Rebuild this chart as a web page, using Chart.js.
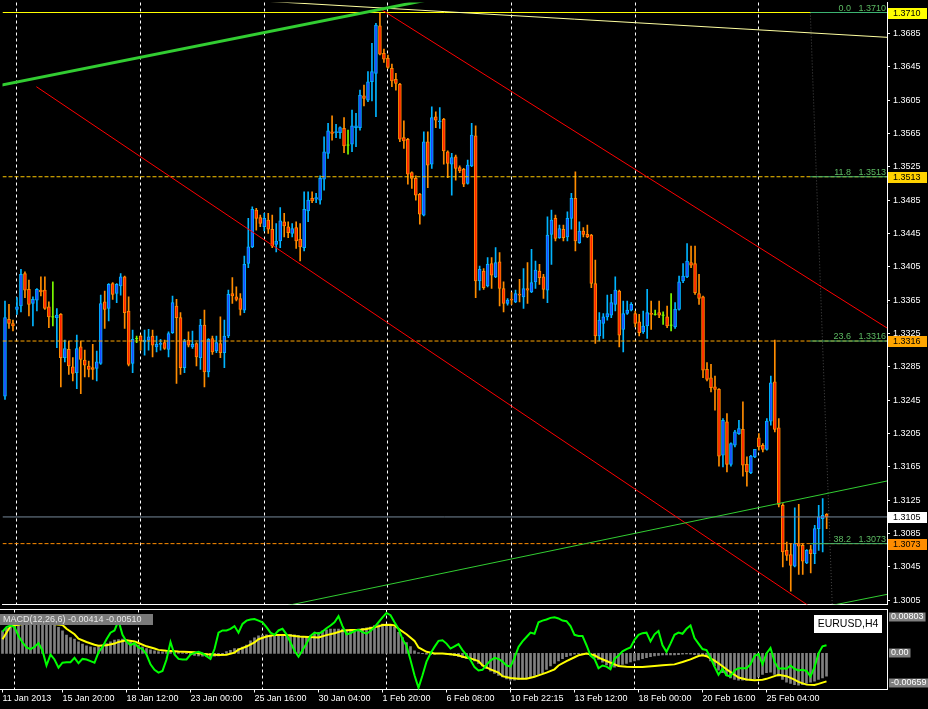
<!DOCTYPE html>
<html lang="en">
<head>
<meta charset="utf-8">
<title>EURUSD,H4</title>
<script src="https://cdn.jsdelivr.net/npm/chart.js@4.4.1/dist/chart.umd.min.js"></script>
<style>
  html, body { margin: 0; padding: 0; background: #000; }
  body { width: 928px; height: 709px; position: relative; overflow: hidden; }
  canvas { position: absolute; left: 0; }
  #priceChart { top: 0; }
  #macdChart { top: 606px; }
</style>
</head>
<body>
<canvas id="priceChart" width="928" height="607"></canvas>
<canvas id="macdChart" width="928" height="103"></canvas>
<script>
// EURUSD H4 candles, one entry per bar (bar 0 = 11 Jan 2013)
const opens = [
  1.3250,1.3342,1.3337,1.3354,1.3358,1.3397,1.3378,1.3361,1.3365,1.3377,
  1.3377,1.3357,1.3345,1.3344,1.3348,1.3296,1.3306,1.3285,1.3278,1.3309,
  1.3293,1.3286,1.3284,1.3283,1.3289,1.3363,1.3355,1.3385,1.3373,1.3382,
  1.3393,1.3352,1.3289,1.3319,1.3322,1.3315,1.3317,1.3322,1.3309,1.3312,
  1.3314,1.3306,1.3326,1.3358,1.3344,1.3284,1.3317,1.3309,1.3313,1.3296,
  1.3335,1.3279,1.3319,1.3304,1.3313,1.3302,1.3322,1.3373,1.3369,1.3367,
  1.3353,1.3409,1.3429,1.3473,1.3464,1.3453,1.3461,1.3450,1.3432,1.3436,
  1.3459,1.3453,1.3445,1.3452,1.3438,1.3428,1.3472,1.3487,1.3486,1.3485,
  1.3510,1.3541,1.3567,1.3566,1.3566,1.3571,1.3551,1.3552,1.3572,1.3572,
  1.3610,1.3605,1.3627,1.3637,1.3694,1.3661,1.3655,1.3643,1.3630,1.3624,
  1.3560,1.3558,1.3518,1.3511,1.3492,1.3467,1.3555,1.3528,1.3585,1.3579,
  1.3582,1.3543,1.3528,1.3537,1.3524,1.3522,1.3505,1.3526,1.3562,1.3388,
  1.3400,1.3382,1.3409,1.3393,1.3411,1.3379,1.3361,1.3366,1.3363,1.3372,
  1.3369,1.3379,1.3375,1.3387,1.3400,1.3393,1.3377,1.3444,1.3463,1.3440,
  1.3450,1.3441,1.3463,1.3487,1.3434,1.3448,1.3444,1.3443,1.3385,1.3322,
  1.3337,1.3345,1.3347,1.3360,1.3376,1.3330,1.3349,1.3353,1.3349,1.3339,
  1.3327,1.3334,1.3349,1.3348,1.3350,1.3347,1.3345,1.3335,1.3333,1.3354,
  1.3388,1.3393,1.3410,1.3409,1.3373,1.3369,1.3282,1.3272,1.3261,1.3258,
  1.3179,1.3219,1.3168,1.3191,1.3205,1.3210,1.3168,1.3158,1.3177,1.3200,
  1.3191,1.3186,1.3220,1.3267,1.3212,1.3119,1.3065,1.3060,1.3046,1.3073,
  1.3071,1.3050,1.3066,1.3061,1.3091,1.3103,1.3108
];
const highs = [
  1.3364,1.3360,1.3341,1.3368,1.3402,1.3399,1.3389,1.3369,1.3379,1.3393,
  1.3393,1.3363,1.3387,1.3355,1.3349,1.3317,1.3316,1.3296,1.3323,1.3316,
  1.3305,1.3292,1.3312,1.3304,1.3371,1.3376,1.3385,1.3386,1.3385,1.3397,
  1.3394,1.3369,1.3329,1.3322,1.3323,1.3329,1.3330,1.3329,1.3322,1.3318,
  1.3317,1.3327,1.3370,1.3366,1.3350,1.3318,1.3327,1.3328,1.3314,1.3342,
  1.3353,1.3319,1.3322,1.3322,1.3345,1.3341,1.3377,1.3392,1.3381,1.3373,
  1.3418,1.3463,1.3477,1.3475,1.3467,1.3469,1.3469,1.3467,1.3457,1.3476,
  1.3469,1.3459,1.3457,1.3459,1.3457,1.3495,1.3495,1.3495,1.3493,1.3514,
  1.3561,1.3577,1.3586,1.3576,1.3573,1.3584,1.3569,1.3593,1.3589,1.3617,
  1.3623,1.3639,1.3673,1.3697,1.3710,1.3666,1.3659,1.3648,1.3637,1.3625,
  1.3580,1.3559,1.3519,1.3514,1.3493,1.3567,1.3567,1.3597,1.3591,1.3596,
  1.3583,1.3544,1.3541,1.3539,1.3526,1.3523,1.3533,1.3577,1.3574,1.3406,
  1.3403,1.3416,1.3416,1.3428,1.3422,1.3387,1.3367,1.3374,1.3377,1.3390,
  1.3403,1.3410,1.3426,1.3412,1.3408,1.3396,1.3465,1.3473,1.3467,1.3455,
  1.3455,1.3471,1.3493,1.3519,1.3459,1.3452,1.3455,1.3444,1.3413,1.3350,
  1.3349,1.3371,1.3372,1.3393,1.3377,1.3364,1.3364,1.3362,1.3352,1.3348,
  1.3352,1.3378,1.3364,1.3353,1.3364,1.3351,1.3358,1.3373,1.3362,1.3394,
  1.3409,1.3433,1.3430,1.3430,1.3396,1.3370,1.3290,1.3288,1.3274,1.3259,
  1.3223,1.3229,1.3194,1.3209,1.3221,1.3243,1.3177,1.3179,1.3186,1.3205,
  1.3193,1.3223,1.3274,1.3317,1.3223,1.3121,1.3075,1.3073,1.3116,1.3120,
  1.3073,1.3066,1.3071,1.3095,1.3119,1.3127,1.3109
];
const lows = [
  1.3246,1.3331,1.3328,1.3348,1.3351,1.3368,1.3346,1.3334,1.3352,1.3370,
  1.3354,1.3332,1.3334,1.3308,1.3261,1.3291,1.3276,1.3268,1.3259,1.3253,
  1.3273,1.3273,1.3270,1.3268,1.3288,1.3331,1.3340,1.3366,1.3362,1.3371,
  1.3331,1.3286,1.3278,1.3314,1.3305,1.3299,1.3305,1.3297,1.3303,1.3305,
  1.3306,1.3297,1.3325,1.3265,1.3276,1.3278,1.3309,1.3307,1.3286,1.3282,
  1.3261,1.3273,1.3300,1.3302,1.3296,1.3284,1.3320,1.3361,1.3364,1.3347,
  1.3350,1.3404,1.3428,1.3449,1.3453,1.3448,1.3445,1.3428,1.3423,1.3428,
  1.3441,1.3440,1.3441,1.3427,1.3412,1.3424,1.3459,1.3482,1.3482,1.3480,
  1.3497,1.3535,1.3557,1.3560,1.3559,1.3542,1.3540,1.3543,1.3549,1.3569,
  1.3598,1.3603,1.3604,1.3585,1.3659,1.3650,1.3643,1.3621,1.3617,1.3555,
  1.3547,1.3504,1.3499,1.3485,1.3456,1.3466,1.3500,1.3523,1.3572,1.3571,
  1.3528,1.3512,1.3491,1.3509,1.3518,1.3501,1.3504,1.3525,1.3368,1.3377,
  1.3378,1.3381,1.3379,1.3392,1.3358,1.3351,1.3359,1.3360,1.3362,1.3363,
  1.3355,1.3361,1.3374,1.3379,1.3384,1.3367,1.3362,1.3408,1.3436,1.3439,
  1.3436,1.3436,1.3450,1.3424,1.3433,1.3441,1.3440,1.3380,1.3313,1.3316,
  1.3319,1.3341,1.3344,1.3352,1.3309,1.3303,1.3348,1.3352,1.3333,1.3322,
  1.3325,1.3319,1.3330,1.3347,1.3344,1.3336,1.3332,1.3328,1.3331,1.3353,
  1.3386,1.3392,1.3404,1.3372,1.3360,1.3272,1.3268,1.3255,1.3233,1.3166,
  1.3165,1.3159,1.3166,1.3189,1.3204,1.3154,1.3142,1.3157,1.3176,1.3185,
  1.3183,1.3185,1.3215,1.3207,1.3117,1.3045,1.3053,1.3016,1.3045,1.3036,
  1.3036,1.3049,1.3038,1.3049,1.3065,1.3063,1.3091
];
const closes = [
  1.3344,1.3337,1.3334,1.3357,1.3396,1.3377,1.3360,1.3366,1.3378,1.3375,
  1.3355,1.3345,1.3345,1.3347,1.3296,1.3307,1.3286,1.3277,1.3307,1.3294,
  1.3287,1.3282,1.3282,1.3291,1.3361,1.3354,1.3384,1.3372,1.3384,1.3393,
  1.3350,1.3288,1.3318,1.3319,1.3316,1.3317,1.3321,1.3311,1.3312,1.3313,
  1.3307,1.3325,1.3362,1.3344,1.3284,1.3316,1.3311,1.3312,1.3297,1.3335,
  1.3279,1.3318,1.3303,1.3314,1.3302,1.3322,1.3372,1.3370,1.3366,1.3354,
  1.3408,1.3429,1.3474,1.3463,1.3457,1.3463,1.3450,1.3430,1.3436,1.3460,
  1.3454,1.3446,1.3451,1.3436,1.3429,1.3474,1.3485,1.3484,1.3488,1.3511,
  1.3543,1.3568,1.3565,1.3567,1.3572,1.3550,1.3551,1.3574,1.3574,1.3611,
  1.3607,1.3627,1.3639,1.3695,1.3660,1.3654,1.3644,1.3628,1.3625,1.3558,
  1.3556,1.3516,1.3511,1.3491,1.3468,1.3555,1.3527,1.3584,1.3581,1.3580,
  1.3544,1.3529,1.3536,1.3523,1.3520,1.3504,1.3527,1.3563,1.3388,1.3402,
  1.3380,1.3408,1.3395,1.3410,1.3379,1.3361,1.3365,1.3365,1.3373,1.3371,
  1.3379,1.3377,1.3386,1.3401,1.3392,1.3378,1.3443,1.3461,1.3439,1.3451,
  1.3440,1.3463,1.3487,1.3436,1.3448,1.3444,1.3441,1.3385,1.3322,1.3341,
  1.3345,1.3349,1.3362,1.3377,1.3323,1.3349,1.3353,1.3360,1.3337,1.3326,
  1.3334,1.3350,1.3348,1.3348,1.3347,1.3347,1.3334,1.3335,1.3354,1.3387,
  1.3394,1.3412,1.3407,1.3374,1.3367,1.3281,1.3270,1.3260,1.3258,1.3178,
  1.3221,1.3168,1.3193,1.3207,1.3211,1.3167,1.3159,1.3178,1.3186,1.3189,
  1.3186,1.3220,1.3266,1.3210,1.3120,1.3063,1.3059,1.3047,1.3073,1.3070,
  1.3052,1.3065,1.3061,1.3091,1.3105,1.3107,1.3105
];

// MACD window: gray histogram (one value per bar), yellow signal, green line
const histVals = [
  0.00415,0.00458,0.00495,0.00525,0.00556,0.00569,0.00569,0.00569,0.00569,0.00569,
  0.00569,0.00556,0.00538,0.00519,0.00476,0.00415,0.00335,0.00292,0.00261,0.00212,
  0.00169,0.00138,0.00120,0.00108,0.00126,0.00151,0.00181,0.00212,0.00243,0.00255,
  0.00261,0.00243,0.00212,0.00181,0.00151,0.00120,0.00089,0.00065,0.00046,0.00034,
  0.00028,0.00028,0.00034,0.00028,0.00022,0.00009,-0.00003,-0.00022,-0.00034,-0.00046,
  -0.00052,-0.00052,-0.00058,-0.00052,-0.00046,-0.00003,0.00034,0.00058,0.00089,0.00089,
  0.00114,0.00151,0.00230,0.00286,0.00323,0.00335,0.00341,0.00335,0.00335,0.00335,
  0.00341,0.00347,0.00347,0.00341,0.00329,0.00300,0.00300,0.00323,0.00353,0.00384,
  0.00415,0.00433,0.00446,0.00446,0.00446,0.00446,0.00433,0.00433,0.00433,0.00446,
  0.00458,0.00470,0.00482,0.00507,0.00525,0.00538,0.00538,0.00519,0.00476,0.00384,
  0.00292,0.00200,0.00126,0.00046,0.00015,-0.00003,-0.00015,-0.00022,-0.00015,-0.00003,
  -0.00003,-0.00015,-0.00028,-0.00040,-0.00058,-0.00077,-0.00095,-0.00108,-0.00138,-0.00181,
  -0.00230,-0.00279,-0.00323,-0.00366,-0.00403,-0.00427,-0.00464,-0.00489,-0.00489,-0.00476,
  -0.00464,-0.00446,-0.00427,-0.00403,-0.00384,-0.00353,-0.00292,-0.00230,-0.00181,-0.00138,
  -0.00095,-0.00058,-0.00034,-0.00015,-0.00003,0.00003,-0.00003,-0.00034,-0.00077,-0.00108,
  -0.00160,-0.00210,-0.00261,-0.00249,-0.00218,-0.00200,-0.00181,-0.00157,-0.00138,-0.00120,
  -0.00095,-0.00077,-0.00058,-0.00046,-0.00034,-0.00028,-0.00028,-0.00028,-0.00028,-0.00022,
  -0.00015,-0.00009,-0.00015,-0.00022,-0.00022,-0.00022,-0.00046,-0.00138,-0.00230,-0.00304,
  -0.00353,-0.00403,-0.00446,-0.00476,-0.00489,-0.00489,-0.00489,-0.00489,-0.00464,-0.00427,
  -0.00384,-0.00353,-0.00341,-0.00384,-0.00415,-0.00476,-0.00525,-0.00550,-0.00569,-0.00581,
  -0.00569,-0.00550,-0.00525,-0.00507,-0.00476,-0.00446,-0.00414
];
const signalBars = [
  0,2,5,10,15,16,18,19,21,23,24,26,28,29,31,33,34,36,38,39,41,44,48,49,51,54,56,58,59,61,
  63,64,66,68,71,74,79,81,83,85,87,89,91,94,95,97,98,99,101,103,104,106,108,110,112,114,115,117,119,120,
  122,124,125,127,129,131,133,134,136,138,139,141,143,144,146,148,149,151,153,154,156,158,160,163,165,168,170,172,174,175,
  176,178,179,181,183,184,186,188,190,191,193,194,196,198,199,201,203,204,206
];
const signalVals = [
  0.0026,0.0050,0.0054,0.0056,0.0052,0.0045,0.0035,0.0027,0.0021,0.0016,0.0014,0.0015,0.0018,0.0021,0.0024,
  0.0022,0.0019,0.0013,0.0009,0.00065,0.0005,0.00034,0.0002,0.00003,-0.00015,-0.00028,-0.00022,0.00015,0.0007,0.00126,
  0.0020,0.0026,0.0031,0.00335,0.00335,0.0031,0.0029,0.00335,0.0037,0.00415,0.0043,0.0043,0.00446,0.00495,0.0052,
  0.00525,0.0051,0.0045,0.0035,0.0023,0.0011,0.0003,0.0000,0.0000,-0.00015,-0.00034,-0.0006,-0.0009,-0.0014,-0.0022,
  -0.0029,-0.0035,-0.00415,-0.0045,-0.00464,-0.00464,-0.00427,-0.0040,-0.0035,-0.0029,-0.0022,-0.0014,-0.0007,-0.00034,-0.00003,
  -0.00034,-0.00077,-0.00138,-0.0020,-0.0023,-0.00243,-0.00249,-0.00249,-0.0023,-0.00218,-0.0020,-0.00157,-0.00108,-0.00046,-0.00034,
  -0.0005,-0.0013,-0.0018,-0.0029,-0.0039,-0.0044,-0.00476,-0.0049,-0.0048,-0.00464,-0.00415,-0.0039,-0.00415,-0.0048,-0.0052,
  -0.0057,-0.00575,-0.00556,-0.0051
];
const greenVals = [
  0.0040,0.0048,0.0051,0.0048,0.0032,0.0020,0.0011,0.0008,0.0012,0.0019,
  0.0005,-0.0022,-0.0002,-0.0011,-0.0026,-0.0017,-0.0016,-0.0016,-0.0008,-0.0018,
  -0.0010,-0.0011,-0.0014,-0.0017,0.0002,0.0012,0.0026,0.0038,0.0042,0.0060,
  0.0034,0.0022,0.0015,0.0019,0.0011,0.0008,-0.0002,-0.0020,-0.0030,-0.0035,
  -0.0032,-0.0011,0.0021,-0.0002,-0.0010,-0.0011,-0.0011,-0.0002,0.0001,0.0003,
  0.0000,-0.0005,-0.0010,0.0008,0.0038,0.0042,0.0042,0.0045,0.0050,0.0038,
  0.0054,0.0060,0.0062,0.0063,0.0060,0.0057,0.0048,0.0038,0.0034,0.0042,
  0.0045,0.0035,0.0020,0.0005,-0.0006,0.0006,0.0018,0.0032,0.0038,0.0036,
  0.0040,0.0046,0.0051,0.0057,0.0068,0.0050,0.0035,0.0037,0.0041,0.0043,
  0.0039,0.0036,0.0041,0.0048,0.0057,0.0066,0.0074,0.0070,0.0057,0.0045,
  0.0026,0.0014,-0.0012,-0.0040,-0.0063,-0.0040,-0.0015,0.0000,0.0012,0.0023,
  0.0024,0.0018,0.0009,0.0013,0.0017,0.0006,-0.0003,-0.0012,-0.0025,-0.0031,
  -0.0030,-0.0021,-0.0013,-0.0008,-0.0010,-0.0015,-0.0022,-0.0024,-0.0008,0.0012,
  0.0022,0.0030,0.0038,0.0036,0.0057,0.0060,0.0062,0.0065,0.0066,0.0064,
  0.0060,0.0059,0.0050,0.0034,0.0032,0.0032,0.0015,-0.0004,-0.0010,-0.0027,
  -0.0022,-0.0024,-0.0029,-0.0010,-0.0004,0.0004,0.0008,0.0011,0.0025,0.0034,
  0.0037,0.0038,0.0022,0.0035,0.0041,0.0015,0.0003,0.0018,0.0034,0.0038,
  0.0036,0.0045,0.0051,0.0028,0.0018,0.0008,0.0006,-0.0008,-0.0024,-0.0039,
  -0.0028,-0.0040,-0.0042,-0.0031,-0.0027,-0.0027,-0.0027,-0.0020,-0.0005,-0.0001,
  -0.0020,0.0000,0.0010,-0.0015,-0.0028,-0.0027,-0.0028,-0.0022,-0.0028,-0.0031,
  -0.0030,-0.0032,-0.0042,-0.0025,0.0000,0.0013,0.0015
];
const macdCaption = 'MACD(12,26,6) -0.00414 -0.00510';
const symbolCaption = 'EURUSD,H4';
const macdScaleMax = 0.00803;
const macdScaleMin = -0.00659;

// time axis
const timeBars = [0, 15, 31, 47, 63, 79, 95, 111, 127, 143, 159, 175, 191];
const timeLabels = ['11 Jan 2013', '15 Jan 20:00', '18 Jan 12:00', '23 Jan 00:00', '25 Jan 16:00',
  '30 Jan 04:00', '1 Feb 20:00', '6 Feb 08:00', '10 Feb 22:15', '13 Feb 12:00',
  '18 Feb 00:00', '20 Feb 16:00', '25 Feb 04:00'];
const gridBars = [3, 34, 65, 96, 127, 158, 189];

// price axis
const priceTicks = [1.3005, 1.3045, 1.3085, 1.3125, 1.3165, 1.3205, 1.3245, 1.3285, 1.3325,
  1.3365, 1.3405, 1.3445, 1.3485, 1.3525, 1.3565, 1.3605, 1.3645, 1.3685];
const priceMin = 1.3000;
const priceMax = 1.3722;

// horizontal levels and their axis tags
const levelPrices = [1.3710, 1.3513, 1.3316, 1.3105, 1.3073];
const levelColors = ['#FFFF00', '#FFC800', '#FFA500', '#778899', '#FF8C00'];
const levelDash = [[], [4, 2], [4, 2], [], [4, 2]];
const tagColors = ['#FFFF00', '#FFD200', '#FFA500', '#FFFFFF', '#FF8C00'];

// fibonacci retracement
const fiboLevels = [0.0, 11.8, 23.6, 38.2];
const fiboPrices = [1.3710, 1.3513, 1.3316, 1.3073];
const fiboStartBar = 201.9;
const fiboBase = [[201.9, 1.3710], [214.8, 1.2043]];

// trend lines as [bar, price] end points
const greenThick = [[-5, 1.3619], [110, 1.3729]];
const greenLow = [[65, 1.2993], [222, 1.3149]];
const greenLow2 = [[200, 1.2992], [222, 1.3013]];
const redUpper = [[93.875, 1.3715], [222, 1.3329]];
const redLower = [[7.875, 1.3621], [215, 1.2955]];
const paleYellow = [[60, 1.3725], [222, 1.3680]];

const X_MIN = -0.625;
const X_MAX = 221.125;

Chart.defaults.font.family = "'Liberation Sans', Arial, sans-serif";
Chart.defaults.font.size = 9;
Chart.defaults.color = '#ffffff';

const COL = {
  bullEdge: '#00B4FF',
  bullFill: '#1E46FF',
  bearEdge: '#FF8C00',
  bearFill: '#FF2000',
  doji: '#7CFC00',
  fiboText: '#5DBB63',
  fiboLine: '#3CB371'
};

const bars = opens.map((_, i) => i);
const isDoji = i => opens[i] === closes[i];
const isBull = i => closes[i] > opens[i];
const bodyBars = bars.filter(i => !isDoji(i));
const dojiBars = bars.filter(isDoji);

// only the listed grid bars get a visible line
const gridColor = ctx => (ctx.tick && gridBars.includes(ctx.tick.value)) ? '#ffffff' : 'rgba(0,0,0,0)';

function seg(points, color, width, dash, order) {
  return {
    type: 'line',
    data: points.map(p => ({ x: p[0], y: p[1] })),
    borderColor: color,
    borderWidth: width,
    borderDash: dash || [],
    pointRadius: 0,
    pointHoverRadius: 0,
    tension: 0,
    fill: false,
    order: order
  };
}

const lineSets = [];
levelPrices.forEach((p, k) => {
  lineSets.push(seg([[X_MIN, p], [X_MAX, p]], levelColors[k], 1, levelDash[k], 3));
});
fiboPrices.forEach(p => {
  lineSets.push(seg([[fiboStartBar, p], [X_MAX, p]], COL.fiboLine, 1, [], 2));
});
lineSets.push(seg(fiboBase, '#4a4a4a', 1, [1, 2], 4));
lineSets.push(seg(greenThick, '#32CD32', 3, [], 1));
lineSets.push(seg(greenLow, '#32CD32', 1, [], 1));
lineSets.push(seg(greenLow2, '#32CD32', 1, [], 1));
lineSets.push(seg(redUpper, '#FF0000', 1, [], 1));
lineSets.push(seg(redLower, '#FF0000', 1, [], 1));
lineSets.push(seg(paleYellow, '#FFFFA0', 1, [], 1));

const priceTags = {
  id: 'priceTags',
  afterDraw(chart) {
    const { ctx, chartArea: area, scales: { y } } = chart;
    ctx.save();
    ctx.font = "9px 'Liberation Sans', Arial, sans-serif";
    // fibo captions above each level
    ctx.fillStyle = COL.fiboText;
    ctx.textAlign = 'right';
    ctx.textBaseline = 'alphabetic';
    fiboLevels.forEach((lv, k) => {
      const py = y.getPixelForValue(fiboPrices[k]);
      ctx.fillText(fiboPrices[k].toFixed(4), area.right - 1, py - 2);
      ctx.fillText(lv.toFixed(1), area.right - 36, py - 2);
    });
    // coloured price tags on the axis
    ctx.textAlign = 'left';
    ctx.textBaseline = 'middle';
    levelPrices.forEach((p, k) => {
      const py = Math.round(y.getPixelForValue(p));
      ctx.fillStyle = tagColors[k];
      ctx.fillRect(area.right + 1, py - 5, 39, 11);
      ctx.fillStyle = '#000';
      ctx.fillText(p.toFixed(4), area.right + 6, py + 0.5);
    });
    ctx.restore();
  }
};

new Chart(document.getElementById('priceChart'), {
  type: 'bar',
  data: {
    datasets: [
      ...lineSets,
      {
        type: 'line',
        data: dojiBars.map(i => ({ x: i, y: opens[i] })),
        showLine: false,
        pointStyle: 'line',
        pointRadius: 1.5,
        pointHoverRadius: 1.5,
        pointBorderColor: COL.doji,
        pointBorderWidth: 1,
        order: 8
      },
      {
        type: 'bar',
        data: bodyBars.map(i => ({ x: i, y: [Math.min(opens[i], closes[i]), Math.max(opens[i], closes[i])] })),
        backgroundColor: bodyBars.map(i => isBull(i) ? COL.bullFill : COL.bearFill),
        borderColor: bodyBars.map(i => isBull(i) ? COL.bullEdge : COL.bearEdge),
        borderWidth: 1,
        borderSkipped: false,
        barThickness: 3,
        minBarLength: 1,
        grouped: false,
        order: 9
      },
      {
        type: 'bar',
        data: bars.map(i => ({ x: i, y: [lows[i], highs[i]] })),
        backgroundColor: bars.map(i => isDoji(i) ? COL.doji : (isBull(i) ? COL.bullEdge : COL.bearEdge)),
        borderWidth: 0,
        barThickness: 1,
        minBarLength: 1,
        grouped: false,
        order: 10
      }
    ]
  },
  options: {
    responsive: false,
    animation: false,
    devicePixelRatio: 1,
    events: [],
    layout: { padding: 0 },
    plugins: { legend: { display: false }, tooltip: { enabled: false } },
    scales: {
      x: {
        type: 'linear', axis: 'x', position: 'bottom', min: X_MIN, max: X_MAX, offset: false,
        afterBuildTicks: ax => { ax.ticks = gridBars.map(v => ({ value: v })); },
        ticks: { display: false },
        grid: { display: true, color: gridColor, lineWidth: 1, drawTicks: false, offset: false },
        border: { display: true, color: '#ffffff', dash: [3, 3] },
        afterFit: ax => { ax.height = 1; ax.paddingLeft = 0; ax.paddingRight = 0; }
      },
      y: {
        type: 'linear', position: 'right', min: priceMin, max: priceMax, beginAtZero: false,
        afterBuildTicks: ax => { ax.ticks = priceTicks.map(v => ({ value: v })); },
        ticks: { color: '#ffffff', padding: 3, autoSkip: false, callback: v => v.toFixed(4) },
        grid: { drawOnChartArea: false, drawTicks: true, tickLength: 3, tickColor: '#ffffff', color: '#ffffff' },
        border: { display: true, color: '#ffffff' },
        afterFit: ax => { ax.width = 41; ax.paddingTop = 0; ax.paddingBottom = 0; }
      }
    }
  },
  plugins: [priceTags]
});

const macdTags = {
  id: 'macdTags',
  afterDraw(chart) {
    const { ctx, chartArea: area, scales: { y } } = chart;
    ctx.save();
    ctx.font = "9px 'Liberation Sans', Arial, sans-serif";
    ctx.textBaseline = 'middle';
    ctx.textAlign = 'left';
    // indicator caption
    ctx.fillStyle = '#7a7a7a';
    ctx.fillRect(0, area.top + 4.5, 153, 11);
    ctx.fillStyle = '#e8e8e8';
    ctx.fillText(macdCaption, 3, area.top + 10.5);
    // scale values on the right
    const tags = [
      [macdScaleMax.toFixed(5), area.top + 7.7],
      ['0.00', y.getPixelForValue(0)],
      [macdScaleMin.toFixed(5), area.bottom - 6.3]
    ];
    tags.forEach(t => {
      const w = ctx.measureText(t[0]).width + 4;
      ctx.fillStyle = '#7f7f7f';
      ctx.fillRect(area.right + 2, Math.round(t[1]) - 4.5, w, 9);
      ctx.fillStyle = '#ffffff';
      ctx.fillText(t[0], area.right + 4, Math.round(t[1]));
    });
    // symbol box
    ctx.fillStyle = '#ffffff';
    ctx.fillRect(area.right - 73, area.top + 5.5, 68, 18);
    ctx.fillStyle = '#000000';
    ctx.font = "10.5px 'Liberation Sans', Arial, sans-serif";
    ctx.textAlign = 'center';
    ctx.fillText(symbolCaption, area.right - 39, area.top + 14.5);
    ctx.restore();
  }
};

new Chart(document.getElementById('macdChart'), {
  type: 'bar',
  data: {
    datasets: [
      {
        type: 'line', xAxisID: 'x',
        data: greenVals.map((v, i) => ({ x: i, y: v })),
        borderColor: '#00FF00', borderWidth: 2, pointRadius: 0, tension: 0, fill: false, order: 1
      },
      {
        type: 'line', xAxisID: 'x',
        data: signalBars.map((b, k) => ({ x: b, y: signalVals[k] })),
        borderColor: '#FFFF00', borderWidth: 2, pointRadius: 0, tension: 0, fill: false, order: 2
      },
      {
        type: 'bar', xAxisID: 'x',
        data: histVals.map((v, i) => ({ x: i, y: v })),
        backgroundColor: '#808080', borderWidth: 0, barThickness: 2, grouped: false, order: 5
      }
    ]
  },
  options: {
    responsive: false,
    animation: false,
    devicePixelRatio: 1,
    events: [],
    layout: { padding: { top: 3.5, left: 0, right: 0, bottom: 0 } },
    plugins: { legend: { display: false }, tooltip: { enabled: false } },
    scales: {
      xTop: {
        type: 'linear', axis: 'x', position: 'top', min: X_MIN, max: X_MAX, offset: false,
        ticks: { display: false },
        grid: { display: false },
        border: { display: true, color: '#ffffff' },
        afterFit: ax => { ax.height = 0; ax.paddingLeft = 0; ax.paddingRight = 0; }
      },
      x: {
        type: 'linear', axis: 'x', position: 'bottom', min: X_MIN, max: X_MAX, offset: false,
        afterBuildTicks: ax => { ax.ticks = timeBars.map(v => ({ value: v })); },
        ticks: {
          color: '#ffffff', autoSkip: false, maxRotation: 0, minRotation: 0, align: 'start', padding: 1,
          callback: (v, idx) => timeLabels[idx]
        },
        grid: { drawOnChartArea: false, drawTicks: true, tickLength: 3, tickColor: '#ffffff', color: '#ffffff', offset: false },
        border: { display: true, color: '#ffffff' },
        afterFit: ax => { ax.height = 19.5; ax.paddingLeft = 0; ax.paddingRight = 0; }
      },
      xg: {
        type: 'linear', axis: 'x', position: 'bottom', min: X_MIN, max: X_MAX, offset: false,
        afterBuildTicks: ax => { ax.ticks = gridBars.map(v => ({ value: v })); },
        ticks: { display: false },
        grid: { display: true, color: gridColor, lineWidth: 1, drawTicks: false, offset: false },
        border: { display: false, dash: [3, 3] },
        afterFit: ax => { ax.height = 0; ax.paddingLeft = 0; ax.paddingRight = 0; }
      },
      y: {
        type: 'linear', position: 'right', min: macdScaleMin, max: macdScaleMax, beginAtZero: false,
        ticks: { display: false },
        grid: { display: false },
        border: { display: true, color: '#ffffff' },
        afterFit: ax => { ax.width = 41; ax.paddingTop = 0; ax.paddingBottom = 0; }
      }
    }
  },
  plugins: [macdTags]
});
</script>
</body>
</html>
